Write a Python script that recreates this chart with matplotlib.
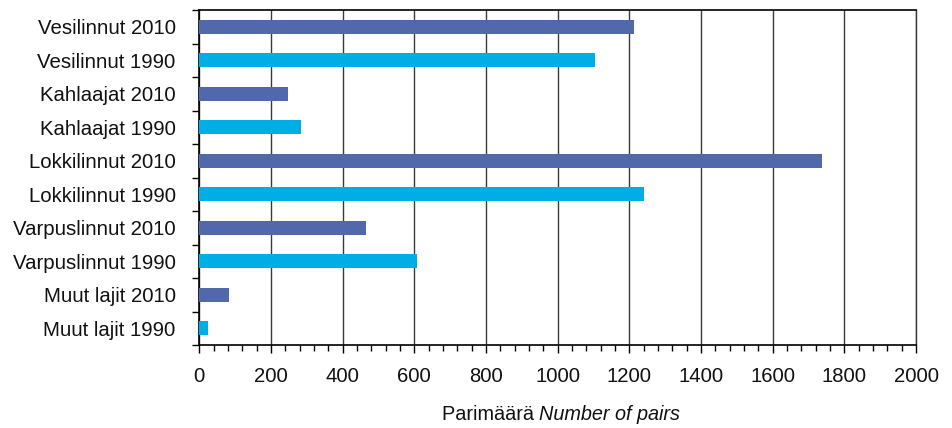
import matplotlib
matplotlib.use("Agg")
import matplotlib.pyplot as plt
from matplotlib.ticker import MultipleLocator, FixedLocator, NullFormatter

plt.rcParams['font.family'] = ['Liberation Sans', 'DejaVu Sans']

# Breeding pairs per group, listed bottom to top
labels = ["Muut lajit 1990", "Muut lajit 2010",
          "Varpuslinnut 1990", "Varpuslinnut 2010",
          "Lokkilinnut 1990", "Lokkilinnut 2010",
          "Kahlaajat 1990", "Kahlaajat 2010",
          "Vesilinnut 1990", "Vesilinnut 2010"]
pairs = [24, 83, 607, 464, 1240, 1737, 284, 247, 1104, 1212]
years = [1990, 2010, 1990, 2010, 1990, 2010, 1990, 2010, 1990, 2010]

year_colors = {1990: "#00AEE6", 2010: "#5169AA"}
colors = [year_colors[y] for y in years]

fig = plt.figure(figsize=(9.52, 4.28), dpi=100)
ax = fig.add_axes([0.2094, 0.1939, 0.9622 - 0.2094, 0.9766 - 0.1939])

pos = list(range(len(labels)))
ax.barh(pos, pairs, height=0.41, color=colors, zorder=3)

ax.set_xlim(0, 2000)
ax.set_ylim(-0.5, len(labels) - 0.5)

ax.xaxis.set_major_locator(MultipleLocator(200))
ax.xaxis.set_minor_locator(MultipleLocator(40))
ax.grid(axis='x', which='major', color='#3a3a3a', linewidth=1.0, zorder=1)

# category labels centred on bars, tick marks on the category boundaries
ax.set_yticks(pos)
ax.set_yticklabels(labels, fontsize=14.7, color='#111111')
ax.yaxis.set_minor_locator(FixedLocator([p - 0.5 for p in pos] + [len(labels) - 0.5]))
ax.yaxis.set_minor_formatter(NullFormatter())
ax.tick_params(axis='y', which='major', length=0, pad=17)
ax.tick_params(axis='y', which='minor', length=5, width=1.0, direction='out', color='black')

ax.tick_params(axis='x', which='major', length=6, width=1.0, direction='out',
               labelsize=14.6, pad=10, color='black', labelcolor='#111111')
ax.tick_params(axis='x', which='minor', length=4, width=1.0, direction='out', color='black')

for side in ['left', 'bottom', 'top']:
    ax.spines[side].set_color('black')
    ax.spines[side].set_linewidth(1.2)
ax.spines['right'].set_color('#3a3a3a')
ax.spines['right'].set_linewidth(1.0)

# axis title in two styles, centred under the plot
fig.canvas.draw()
renderer = fig.canvas.get_renderer()
part1 = "Parimäärä "
part2 = "Number of pairs"
t1 = fig.text(0, 0, part1, fontsize=14.3, color='#111111')
t2 = fig.text(0, 0, part2, fontsize=14.3, style='italic', color='#111111')
w1 = t1.get_window_extent(renderer).width
w2 = t2.get_window_extent(renderer).width
W = fig.get_figwidth() * fig.dpi
center = 561
y_base = 1 - 420 / 428
t1.set_position(((center - (w1 + w2) / 2) / W, y_base))
t2.set_position(((center - (w1 + w2) / 2 + w1) / W, y_base))

fig.savefig("out.png", dpi=100)
